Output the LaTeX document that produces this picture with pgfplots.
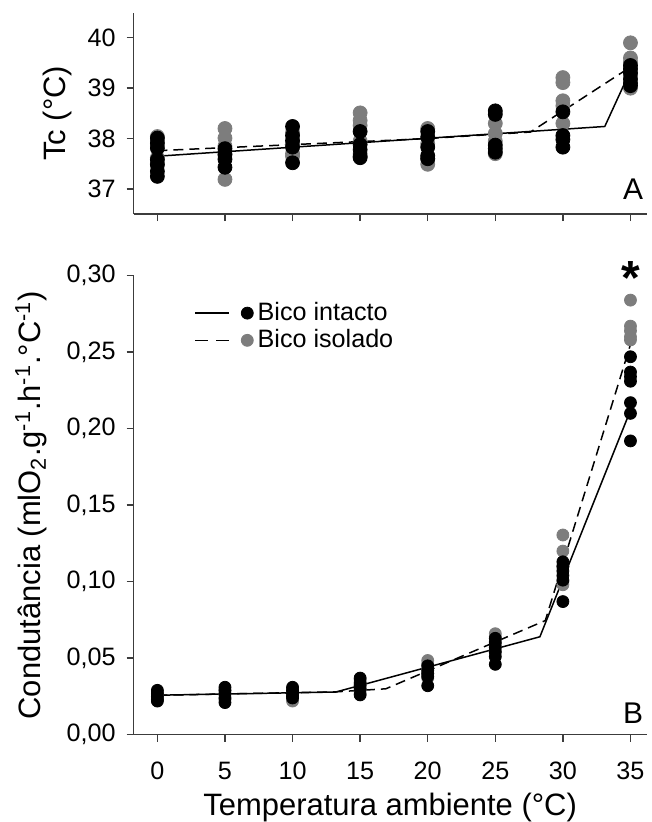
\documentclass[border=0pt]{standalone}
\usepackage{fontspec}
\setmainfont{Liberation Sans}
\usepackage{pgfplots}
\pgfplotsset{compat=1.18}

\definecolor{ptgray}{RGB}{125,125,125}
\definecolor{axgray}{RGB}{60,60,60}

\pgfplotsset{
  panel/.style={
    scale only axis, width=257pt,
    xmin=-1.75, xmax=36.2,
    axis x line*=bottom, axis y line*=left,
    axis line style={-, axgray, line width=0.7pt},
    every outer x axis line/.append style={-},
    every outer y axis line/.append style={-},
    tick style={axgray, line width=0.7pt},
    tick align=outside, major tick length=3.5pt,
    xtick={0,5,10,15,20,25,30,35},
    ticklabel style={font=\fontsize{12.6}{15}\selectfont},
    label style={font=\fontsize{15.5}{18}\selectfont},
    /pgf/number format/assume math mode=true,
    scaled y ticks=false,
    clip=false,
  },
  intact/.style={only marks, mark=*, color=black, mark options={draw=black, fill=black}, forget plot},
  isol/.style={only marks, mark=*, color=ptgray, mark options={draw=ptgray, fill=ptgray}, forget plot},
  solidfit/.style={black, line width=0.75pt, no marks, forget plot},
  dashfit/.style={black, line width=0.75pt, dash pattern=on 5pt off 3pt, no marks, forget plot},
}

\begin{document}
\begin{tikzpicture}
% painel A
\begin{axis}[panel, at={(0,260.8pt)}, height=101pt,
  ymin=36.5, ymax=40.5, ytick={37,38,39,40},
  xticklabels={},
  yticklabel style={xshift=-2pt},
  ylabel={Tc (°C)}, ylabel shift=1pt]
\addplot[isol, mark size=3.5pt] coordinates {
(0,38.04) (0,37.95) (0,37.85) (0,37.62) (0,37.50)
(5,38.20) (5,38.01) (5,37.85) (5,37.70) (5,37.19)
(10,38.12) (10,37.90) (10,37.70) (10,37.65)
(15,38.51) (15,38.36) (15,38.26) (15,37.95) (15,37.70)
(20,38.20) (20,37.90) (20,37.60) (20,37.49)
(25,38.30) (25,38.10) (25,37.95) (25,37.70)
(30,39.21) (30,39.11) (30,38.75) (30,38.65) (30,38.30)
(35,39.90) (35,39.60) (35,39.52) (35,39.25) (35,39.00)
};
\addplot[intact, mark size=3.5pt] coordinates {
(0,38.01) (0,37.91) (0,37.81) (0,37.58) (0,37.48) (0,37.35) (0,37.25)
(5,37.80) (5,37.68) (5,37.59) (5,37.43)
(10,38.24) (10,38.06) (10,37.96) (10,37.83) (10,37.52)
(15,38.14) (15,37.88) (15,37.78) (15,37.65) (15,37.62)
(20,38.14) (20,38.03) (20,37.83) (20,37.66) (20,37.60)
(25,38.55) (25,38.48) (25,37.87) (25,37.80) (25,37.73)
(30,38.53) (30,38.06) (30,37.98) (30,37.83)
(35,39.45) (35,39.38) (35,39.30) (35,39.18) (35,39.10) (35,39.05)
};
\addplot[solidfit] coordinates {(0,37.65) (33.1,38.24) (35,39.35)};
\addplot[dashfit] coordinates {(0,37.76) (20,38.00) (27.6,38.13) (35,39.42)};
\node[font=\fontsize{15}{18}\selectfont] at (axis cs:35.2,37.0) {A};
\end{axis}

% painel B
\begin{axis}[panel, at={(0,0)}, height=230pt,
  ymin=0, ymax=0.30, ytick={0,0.05,0.10,0.15,0.20,0.25,0.30},
  yticklabel style={xshift=-2pt, /pgf/number format/.cd, fixed, fixed zerofill, precision=2, use comma},
  xticklabel style={yshift=-6.5pt},
  xlabel={Temperatura ambiente (°C)}, xlabel shift=3.3pt,
  xlabel style={inner sep=0pt},
  ylabel={Condutância (mlO\textsubscript{2}.g\textsuperscript{-1}.h\textsuperscript{-1}.°C\textsuperscript{-1})},
  ylabel shift=3pt,
  legend style={draw=none, fill=none, at={(0.118,0.951)}, anchor=north west,
    font=\fontsize{12.6}{14}\selectfont, row sep=-1pt, inner sep=0pt},
  legend cell align=left]
\addlegendimage{legend image code/.code={
  \draw[black, line width=0.75pt] (0pt,0pt) -- (17pt,0pt);
  \fill[black] (26pt,0pt) circle (3pt);}}
\addlegendentry{Bico intacto}
\addlegendimage{legend image code/.code={
  \draw[black, line width=0.75pt, dash pattern=on 6.5pt off 4pt] (0pt,0pt) -- (17pt,0pt);
  \fill[ptgray] (26pt,0pt) circle (3pt);}}
\addlegendentry{Bico isolado}
\addplot[isol, mark size=3pt] coordinates {
(0,0.028) (0,0.026) (0,0.024)
(5,0.029) (5,0.026) (5,0.023)
(10,0.030) (10,0.028) (10,0.026) (10,0.022)
(15,0.036) (15,0.033) (15,0.029) (15,0.027)
(20,0.0485) (20,0.046) (20,0.043) (20,0.040) (20,0.037)
(25,0.066) (25,0.064) (25,0.061) (25,0.058) (25,0.055)
(30,0.1305) (30,0.120) (30,0.110) (30,0.100) (30,0.098)
(35,0.284) (35,0.267) (35,0.264) (35,0.260) (35,0.258)
};
\addplot[intact, mark size=3pt] coordinates {
(0,0.029) (0,0.027) (0,0.025) (0,0.023) (0,0.022)
(5,0.031) (5,0.029) (5,0.027) (5,0.024) (5,0.021)
(10,0.031) (10,0.029) (10,0.027) (10,0.025) (10,0.024)
(15,0.037) (15,0.034) (15,0.032) (15,0.030) (15,0.026)
(20,0.045) (20,0.042) (20,0.040) (20,0.038) (20,0.032)
(25,0.063) (25,0.060) (25,0.057) (25,0.054) (25,0.051) (25,0.046)
(30,0.113) (30,0.110) (30,0.107) (30,0.104) (30,0.101) (30,0.087)
(35,0.247) (35,0.237) (35,0.234) (35,0.231) (35,0.217) (35,0.210) (35,0.192)
};
\addplot[solidfit] coordinates {(0,0.0258) (13.2,0.0279) (28.3,0.064) (35,0.212)};
\addplot[dashfit] coordinates {(0,0.0258) (13.2,0.0280) (16.9,0.030) (28.7,0.0746) (35,0.255)};
\node[font=\fontsize{15}{18}\selectfont] at (axis cs:35.2,0.014) {B};
\node[font=\bfseries\fontsize{24}{26}\selectfont, anchor=base] at (axis cs:35,0.288) {*};
\end{axis}
% margens como no original
\path (-67pt,368.1pt) (0,-42.7pt);
\end{tikzpicture}
\end{document}
